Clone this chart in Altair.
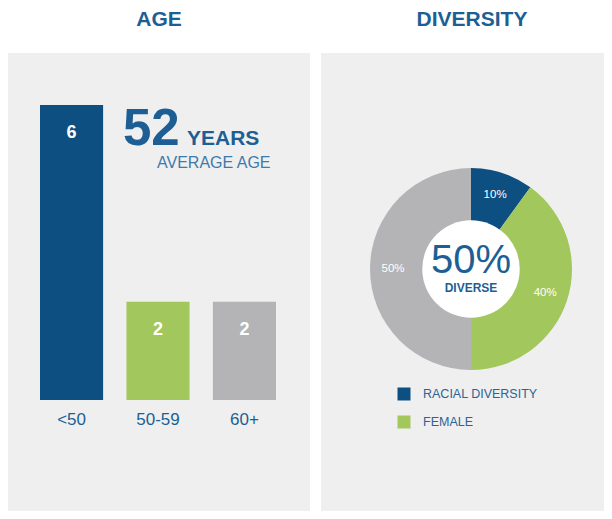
import altair as alt
import pandas as pd

# ---- data ----
age_groups = ["<50", "50-59", "60+"]
age_counts = [6, 2, 2]
age_colors = ["#0d4f81", "#a2c75c", "#b4b4b6"]

div_groups = ["RACIAL DIVERSITY", "FEMALE", "OTHER"]
div_values = [10, 40, 50]
div_labels = ["10%", "40%", "50%"]
div_colors = ["#0d4f81", "#a2c75c", "#b4b4b6"]
legend_groups = ["RACIAL DIVERSITY", "FEMALE"]

avg_age_value = "52"
avg_age_unit = "YEARS"
avg_age_caption = "AVERAGE AGE"
center_value = "50%"
center_caption = "DIVERSE"
titles = ["AGE", "DIVERSITY"]

FONT = "Liberation Sans"
BLUE = "#1d5f94"
PANEL = "#efefef"
W1, W2, H = 302, 283, 503

age_df = pd.DataFrame({"group": age_groups, "count": age_counts})
div_df = pd.DataFrame({"group": div_groups, "value": div_values,
                       "label": div_labels, "idx": list(range(len(div_groups)))})
leg_df = pd.DataFrame({"group": legend_groups})
one = pd.DataFrame({"k": [0]})


def background(w):
    return alt.Chart(one).mark_rect(color=PANEL).encode(
        x=alt.value(0), x2=alt.value(w), y=alt.value(45), y2=alt.value(H))


def label(text, x, y, **kw):
    return alt.Chart(pd.DataFrame({"t": [text]})).mark_text(**kw).encode(
        x=alt.value(x), y=alt.value(y), text="t:N")


# ---- left panel: age ----
xs = alt.X("group:N", sort=age_groups,
           scale=alt.Scale(domain=age_groups, range=[32, 268], paddingInner=0.27, paddingOuter=0),
           axis=None)
ys = alt.Y("count:Q", scale=alt.Scale(domain=[0, 6], range=[392, 97]), axis=None)
age_color = alt.Color("group:N", scale=alt.Scale(domain=age_groups, range=age_colors), legend=None)

base_age = alt.Chart(age_df)
bars = base_age.mark_bar().encode(x=xs, y=ys, color=age_color)
bar_vals = base_age.mark_text(dy=28, color="white", fontWeight="bold", fontSize=18,
                              baseline="middle").encode(x=xs, y=ys, text="count:Q")
cat_labels = base_age.mark_text(color=BLUE, fontSize=17, baseline="middle").encode(
    x=xs, y=alt.value(412), text="group:N")

left = alt.layer(
    background(W1),
    label(titles[0], 151, 12, fontSize=21, fontWeight="bold", color=BLUE, baseline="middle"),
    bars, bar_vals, cat_labels,
    label(avg_age_value, 115, 137, fontSize=51, fontWeight="bold", color=BLUE,
          align="left", baseline="alphabetic"),
    label(avg_age_unit, 179, 137, fontSize=21, fontWeight="bold", color=BLUE,
          align="left", baseline="alphabetic"),
    label(avg_age_caption, 149, 160, fontSize=16, color="#3d7aad",
          align="left", baseline="alphabetic"),
).properties(width=W1, height=H)

# ---- right panel: diversity ----
CX, CY = 150, 261
div_color = alt.Color("group:N", scale=alt.Scale(domain=div_groups, range=div_colors), legend=None)
theta = alt.Theta("value:Q", stack=True)
order = alt.Order("idx:Q")

base_div = alt.Chart(div_df)
donut = base_div.mark_arc(radius=101, innerRadius=0).encode(
    theta=theta, color=div_color, order=order, x=alt.value(CX), y=alt.value(CY))
hole = alt.Chart(one).mark_circle(color="white", opacity=1, size=3.14159 * 55 * 55).encode(
    x=alt.value(CX), y=alt.value(CY))
slice_labels = base_div.mark_text(radius=78, color="white", fontSize=11.5).encode(
    theta=theta, order=order, text="label:N", x=alt.value(CX), y=alt.value(CY))

leg_y = alt.Y("group:N", scale=alt.Scale(domain=legend_groups, range=[386, 414], padding=0),
              axis=None)
leg_sq = alt.Chart(leg_df).mark_square(size=169, opacity=1).encode(
    x=alt.value(83), y=leg_y, color=div_color)
leg_txt = alt.Chart(leg_df).mark_text(align="left", baseline="middle", fontSize=12.5,
                                      color="#2a6496").encode(
    x=alt.value(102), y=leg_y, text="group:N")

right = alt.layer(
    background(W2),
    label(titles[1], 151, 12, fontSize=21, fontWeight="bold", color=BLUE, baseline="middle"),
    donut, hole, slice_labels,
    label(center_value, CX, 265, fontSize=40, color=BLUE, baseline="alphabetic"),
    label(center_caption, CX, 284, fontSize=12, fontWeight="bold", color=BLUE,
          baseline="alphabetic"),
    leg_sq, leg_txt,
).properties(width=W2, height=H)

chart = alt.hconcat(left, right, spacing=11).properties(padding=0).configure_view(
    strokeWidth=0).configure_text(font=FONT)

chart.save("out.html", embed_options={"renderer": "svg", "actions": False})
